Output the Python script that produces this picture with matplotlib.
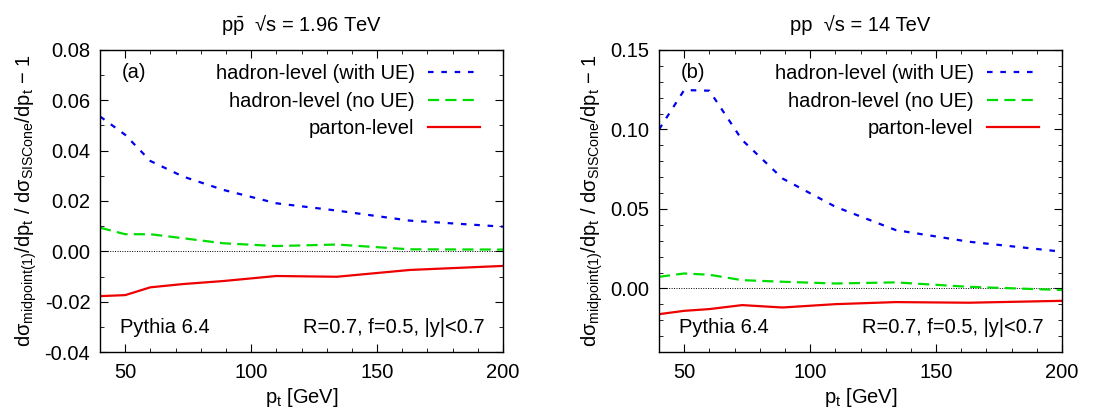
import numpy as np
import matplotlib
matplotlib.use("Agg")
import matplotlib.pyplot as plt
from matplotlib.ticker import MultipleLocator, FormatStrFormatter

plt.rcParams["font.family"] = ["Liberation Sans", "DejaVu Sans"]
plt.rcParams["mathtext.fontset"] = "custom"
plt.rcParams["mathtext.rm"] = "Liberation Sans"
plt.rcParams["axes.unicode_minus"] = False

# pt bins (GeV)
pt = [40, 50, 60, 73, 89, 110, 134, 163, 200]

# (a) p pbar, sqrt(s) = 1.96 TeV
tev_ue = [0.0536, 0.0463, 0.0359, 0.0297, 0.0244, 0.0191, 0.0162, 0.0122, 0.0098]
tev_noue = [0.0094, 0.0068, 0.0068, 0.0052, 0.0032, 0.0021, 0.0027, 0.0008, 0.0007]
tev_parton = [-0.0178, -0.0174, -0.0143, -0.0130, -0.0118, -0.0098, -0.0101,
              -0.0074, -0.0058]

# (b) pp, sqrt(s) = 14 TeV
lhc_ue = [0.1000, 0.1248, 0.1244, 0.0934, 0.0692, 0.0514, 0.0367, 0.0294, 0.0231]
lhc_noue = [0.0073, 0.0094, 0.0086, 0.0052, 0.0042, 0.0031, 0.0038, 0.0010, -0.0010]
lhc_parton = [-0.0162, -0.0141, -0.0130, -0.0105, -0.0120, -0.0099, -0.0086,
              -0.0090, -0.0078]

labels = ["hadron-level (with UE)", "hadron-level (no UE)", "parton-level"]
fs = 14.5

ylab = ("dσ$_{\\mathregular{midpoint(1)}}$/dp$_{\\mathregular{t}}$ / "
        "dσ$_{\\mathregular{SISCone}}$/dp$_{\\mathregular{t}}$ − 1")


def panel(ax, ue, noue, parton, title, tag, ylim, ymajor):
    ax.axhline(0, color="black", lw=0.7, ls=(0, (1, 1.5)))
    ax.plot(pt, ue, color="#0000ee", lw=1.6, ls=(0, (2.5, 3.5)), label=labels[0])
    ax.plot(pt, noue, color="#00dd00", lw=1.6, ls=(0, (5, 2.8)), label=labels[1])
    ax.plot(pt, parton, color="#ee0000", lw=1.6, label=labels[2])
    ax.set_xlim(40, 200)
    ax.set_ylim(*ylim)
    ax.xaxis.set_major_locator(MultipleLocator(50))
    ax.xaxis.set_minor_locator(MultipleLocator(10))
    ax.yaxis.set_major_locator(MultipleLocator(ymajor))
    ax.yaxis.set_minor_locator(MultipleLocator(0.01))
    ax.yaxis.set_major_formatter(FormatStrFormatter("%.2f"))
    ax.tick_params(which="both", direction="in", top=True, right=True,
                   labelsize=fs)
    ax.tick_params(axis="y", pad=7)
    ax.tick_params(axis="x", pad=8)
    ax.tick_params(which="major", length=6)
    ax.tick_params(which="minor", length=3)
    ax.set_xlabel(r"p$_{\mathregular{t}}$ [GeV]", fontsize=fs, labelpad=3)
    ax.set_ylabel(ylab, fontsize=fs, labelpad=4)
    ax.set_title(title, fontsize=fs, pad=14)
    ax.text(0.055, 0.925, tag, transform=ax.transAxes, fontsize=fs,
            ha="left", va="center")
    ax.text(0.05, 0.08, "Pythia 6.4", transform=ax.transAxes, fontsize=fs,
            ha="left", va="center")
    ax.text(0.955, 0.08, "R=0.7, f=0.5, |y|<0.7", transform=ax.transAxes,
            fontsize=fs, ha="right", va="center")
    ax.legend(loc="upper right", frameon=False, markerfirst=False,
              fontsize=fs, handlelength=2.6, labelspacing=0.42,
              borderaxespad=0.3, bbox_to_anchor=(0.978, 1.0),
              handletextpad=0.65)
    for s in ax.spines.values():
        s.set_linewidth(1.0)


fig = plt.figure(figsize=(11.2, 4.12), dpi=100)
ax1 = fig.add_axes([100 / 1120, 1 - 352 / 412, 403 / 1120, 302 / 412])
ax2 = fig.add_axes([659 / 1120, 1 - 352 / 412, 403 / 1120, 302 / 412])

panel(ax1, tev_ue, tev_noue, tev_parton,
      r"p$\bar{\mathregular{p}}$  √s = 1.96 TeV", "(a)", (-0.04, 0.08), 0.02)
panel(ax2, lhc_ue, lhc_noue, lhc_parton,
      "pp  √s = 14 TeV", "(b)", (-0.04, 0.15), 0.05)

fig.savefig("out.png", dpi=100)
